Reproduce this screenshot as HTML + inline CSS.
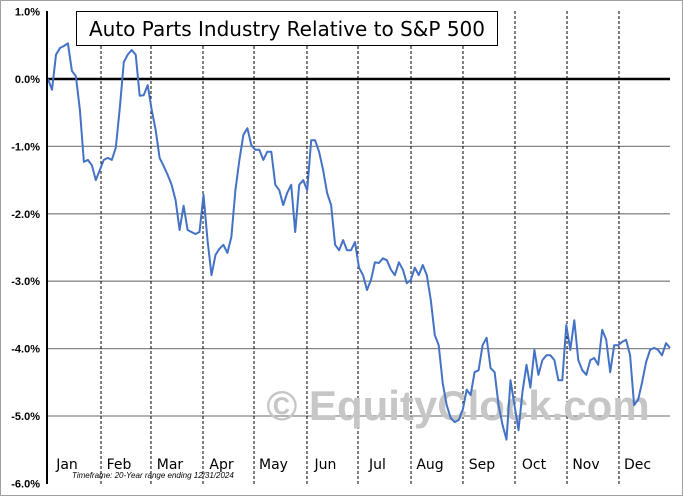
<!DOCTYPE html>
<html><head><meta charset="utf-8"><style>
html,body{margin:0;padding:0;background:#fff;}
svg{display:block;font-family:"Liberation Sans",sans-serif;}
</style></head><body>
<svg id="chart" width="683" height="496" viewBox="0 0 683 496">
<rect x="0.5" y="0.5" width="682" height="495" fill="#fff" stroke="#a0a0a0"/>
<g id="grid"></g>
<g id="months"></g>
<text x="458" y="420" font-size="42" font-weight="bold" fill="#c6c6c6" text-anchor="middle">© EquityClock.com</text>
<g id="ylabels"></g>
<g id="mlabels"></g>
<path id="line" fill="none" stroke="#4472c4" stroke-width="2" stroke-linejoin="round"/>
<line x1="47" y1="11" x2="47" y2="484" stroke="#000" stroke-width="2"/>
<rect x="76.5" y="11.5" width="421" height="34" fill="#fff" stroke="#000"/>
<text x="287" y="36" font-size="20" text-anchor="middle" fill="#000" font-family="DejaVu Sans, sans-serif">Auto Parts Industry Relative to S&amp;P 500</text>
<text x="72" y="478" font-size="8" font-style="italic" fill="#000">Timeframe: 20-Year range ending 12/31/2024</text>
</svg>
<script>
const yTicks = [1, 0, -1, -2, -3, -4, -5, -6];
const monthLabels = ["Jan","Feb","Mar","Apr","May","Jun","Jul","Aug","Sep","Oct","Nov","Dec"];
const monthStartFrac = [0, 0.0867, 0.1669, 0.2504, 0.3323, 0.4173, 0.4992, 0.5843, 0.6677, 0.7512, 0.8347, 0.9181, 1];
const values = [0.00,-0.16,0.36,0.46,0.49,0.53,0.12,0.04,-0.46,-1.23,-1.20,-1.28,-1.50,-1.35,-1.20,-1.17,-1.20,-1.02,-0.43,0.25,0.36,0.43,0.36,-0.25,-0.24,-0.09,-0.46,-0.76,-1.17,-1.29,-1.42,-1.57,-1.80,-2.24,-1.88,-2.24,-2.27,-2.30,-2.27,-1.72,-2.39,-2.91,-2.61,-2.52,-2.46,-2.58,-2.34,-1.65,-1.20,-0.83,-0.73,-0.98,-1.05,-1.05,-1.20,-1.08,-1.08,-1.57,-1.65,-1.87,-1.69,-1.57,-2.27,-1.57,-1.50,-1.65,-0.91,-0.91,-1.08,-1.35,-1.69,-1.87,-2.46,-2.54,-2.39,-2.54,-2.54,-2.42,-2.80,-2.91,-3.13,-2.98,-2.72,-2.73,-2.66,-2.69,-2.83,-2.91,-2.72,-2.83,-3.03,-2.98,-2.80,-2.91,-2.76,-2.91,-3.28,-3.80,-3.95,-4.51,-4.84,-5.03,-5.09,-5.06,-4.91,-4.61,-4.69,-4.35,-4.32,-3.95,-3.84,-4.29,-4.35,-4.84,-5.13,-5.35,-4.47,-4.84,-5.21,-4.64,-4.24,-4.58,-4.02,-4.39,-4.17,-4.10,-4.10,-4.17,-4.47,-4.47,-3.65,-4.02,-3.58,-4.17,-4.32,-4.39,-4.17,-4.14,-4.24,-3.72,-3.87,-4.35,-3.95,-3.95,-3.90,-3.87,-4.10,-4.84,-4.76,-4.50,-4.20,-4.02,-3.99,-4.02,-4.10,-3.92,-3.99];

const X0 = 47, X1 = 670, NS = "http://www.w3.org/2000/svg";
const yScale = v => 79 - v * 67.4;
const xFrac = f => X0 + f * (X1 - X0);
const xIdx = i => 48 + i * (X1 - 48) / (values.length - 1);
function mk(tag, attrs, parent) {
  const e = document.createElementNS(NS, tag);
  for (const k in attrs) e.setAttribute(k, attrs[k]);
  parent.appendChild(e);
  return e;
}
const grid = document.getElementById('grid');
const yl = document.getElementById('ylabels');
yTicks.forEach(t => {
  const y = yScale(t);
  if (t !== 1 && t !== -6) {
    const ln = mk('line', {x1: X0, x2: X1, y1: y, y2: y, stroke: t === 0 ? '#000' : '#888', 'stroke-width': t === 0 ? 2.5 : 1.3}, grid);
    
    
  }
  const tx = mk('text', {x: 40, y: y + 4, 'font-size': 11, 'font-weight': 'bold', 'text-anchor': 'end'}, yl);
  tx.textContent = t.toFixed(1) + '%';
  
  
});
const months = document.getElementById('months');
const ml = document.getElementById('mlabels');
monthLabels.forEach((m, i) => {
  const a = xFrac(monthStartFrac[i]), b = xFrac(monthStartFrac[i + 1]);
  if (i > 0) {
    const ln = mk('line', {x1: a, x2: a, y1: 11, y2: 484, stroke: '#000', 'stroke-width': 1, 'stroke-dasharray': '3,2'}, months);
    
    
  }
  const tx = mk('text', {x: (a + b) / 2 - 7, y: 469, 'font-size': 14, 'text-anchor': 'middle', 'font-family': 'DejaVu Sans, sans-serif'}, ml);
  tx.textContent = m;
  
  
});
document.getElementById('line').setAttribute('d', values.map((v, i) => (i ? 'L' : 'M') + xIdx(i).toFixed(1) + ',' + yScale(v).toFixed(1)).join(''));
</script>
</body></html>
